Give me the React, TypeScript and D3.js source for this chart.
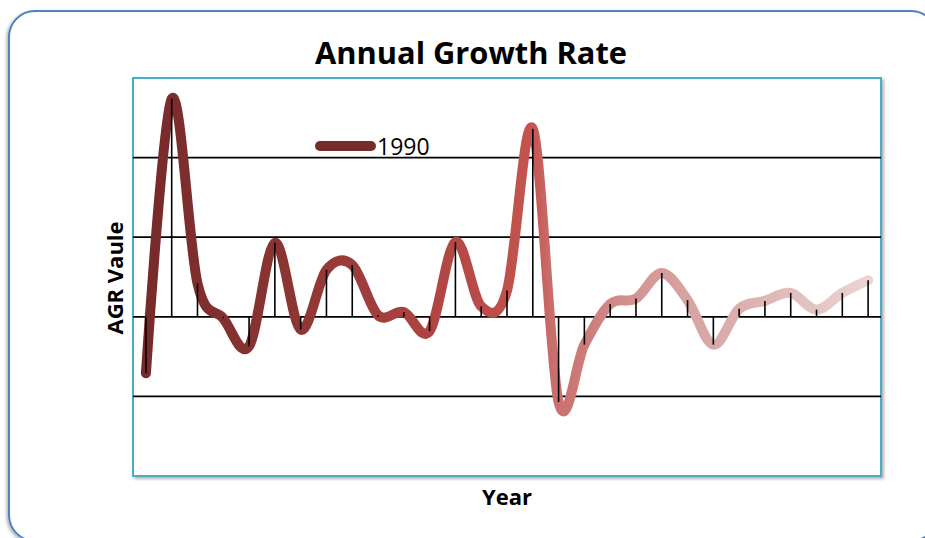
import React from 'react'
import * as d3 from 'd3'

// series: annual growth rate by year
const years = [
    1990, 1991, 1992, 1993, 1994, 1995, 1996, 1997, 1998, 1999, 2000, 2001, 2002, 2003, 2004,
    2005, 2006, 2007, 2008, 2009, 2010, 2011, 2012, 2013, 2014, 2015, 2016, 2017, 2018,
]
const agr = [
    -0.71, 2.74, 0.42, -0.02, -0.37, 0.93, -0.16, 0.59, 0.65, 0.02, 0.06, -0.18, 0.94, 0.13, 0.33,
    2.36, -1.07, -0.35, 0.16, 0.23, 0.55, 0.21, -0.35, 0.1, 0.2, 0.3, 0.09, 0.3, 0.46,
]
const gridValues = [-1, 0, 1, 2]
const seriesName = '1990'

const W = 925
const H = 538
const plot = { left: 133, top: 78, right: 881, bottom: 476 }
const font = '"Open Sans", "Noto Sans", sans-serif'

export default function App() {
    const x = d3
        .scaleBand<number>()
        .domain(years)
        .range([plot.left, plot.right])
    const cx = (yr: number) => x(yr)! + x.bandwidth() / 2
    const y = d3.scaleLinear().domain([-2, 3]).range([plot.bottom, plot.top])

    const line = d3
        .line<number>()
        .x((_, i) => cx(years[i]))
        .y((d) => y(d))
        .curve(d3.curveCardinal.tension(0))

    const x0 = cx(years[0])
    const x1 = cx(years[years.length - 1])

    return (
        <svg width={W} height={H} style={{ position: 'absolute', left: 0, top: 0 }}>
            <defs>
                <filter id="outerShadow" x="-5%" y="-5%" width="110%" height="110%">
                    <feDropShadow dx="-1.5" dy="1.5" stdDeviation="1.5" floodColor="#000" floodOpacity="0.3" />
                </filter>
                <filter id="plotShadow" x="-5%" y="-5%" width="110%" height="110%">
                    <feDropShadow dx="2" dy="2" stdDeviation="1.5" floodColor="#000" floodOpacity="0.3" />
                </filter>
                <linearGradient id="lineGrad" gradientUnits="userSpaceOnUse" x1={x0} x2={x1} y1={0} y2={0}>
                    <stop offset="0" stopColor="#772a2a" />
                    <stop offset="0.2" stopColor="#8c3533" />
                    <stop offset="0.4" stopColor="#b04543" />
                    <stop offset="0.535" stopColor="#c4544f" />
                    <stop offset="0.56" stopColor="#c96d6b" />
                    <stop offset="0.7" stopColor="#d49a98" />
                    <stop offset="0.85" stopColor="#ddb5b4" />
                    <stop offset="1" stopColor="#ebd4d3" />
                </linearGradient>
            </defs>

            {/* chart frame */}
            <rect
                x={9}
                y={11}
                width={928}
                height={530}
                rx={26}
                fill="#fff"
                stroke="#4f81bd"
                strokeWidth={2}
                filter="url(#outerShadow)"
            />

            {/* plot area */}
            <rect
                x={plot.left}
                y={plot.top}
                width={plot.right - plot.left}
                height={plot.bottom - plot.top}
                fill="#fff"
                stroke="#4bacc6"
                strokeWidth={2}
                filter="url(#plotShadow)"
            />

            {/* gridlines */}
            {gridValues.map((v) => (
                <line
                    key={v}
                    x1={plot.left}
                    x2={plot.right}
                    y1={y(v)}
                    y2={y(v)}
                    stroke="#000"
                    strokeWidth={1.8}
                />
            ))}

            {/* series */}
            <path
                d={line(agr) || ''}
                fill="none"
                stroke="url(#lineGrad)"
                strokeWidth={10}
                strokeLinecap="round"
                strokeLinejoin="round"
            />

            {/* drop lines */}
            {agr.map((v, i) => (
                <line
                    key={years[i]}
                    x1={cx(years[i])}
                    x2={cx(years[i])}
                    y1={y(0)}
                    y2={y(v)}
                    stroke="#000"
                    strokeWidth={1.6}
                />
            ))}

            {/* legend */}
            <line x1={320} x2={371} y1={146} y2={146} stroke="#772c2a" strokeWidth={10} strokeLinecap="round" />
            <text x={377} y={154.5} fontFamily={font} fontSize={23} fill="#000">
                {seriesName}
            </text>

            {/* titles */}
            <text
                x={471}
                y={64}
                textAnchor="middle"
                fontFamily={font}
                fontWeight={700}
                fontSize={30}
                textLength={312}
                lengthAdjust="spacingAndGlyphs"
                fill="#000"
            >
                Annual Growth Rate
            </text>
            <text
                transform={`translate(123, 278) rotate(-90)`}
                textAnchor="middle"
                fontFamily={font}
                fontWeight={700}
                fontSize={22}
                fill="#000"
            >
                AGR Vaule
            </text>
            <text
                x={(plot.left + plot.right) / 2}
                y={505}
                textAnchor="middle"
                fontFamily={font}
                fontWeight={700}
                fontSize={22}
                fill="#000"
            >
                Year
            </text>
        </svg>
    )
}
